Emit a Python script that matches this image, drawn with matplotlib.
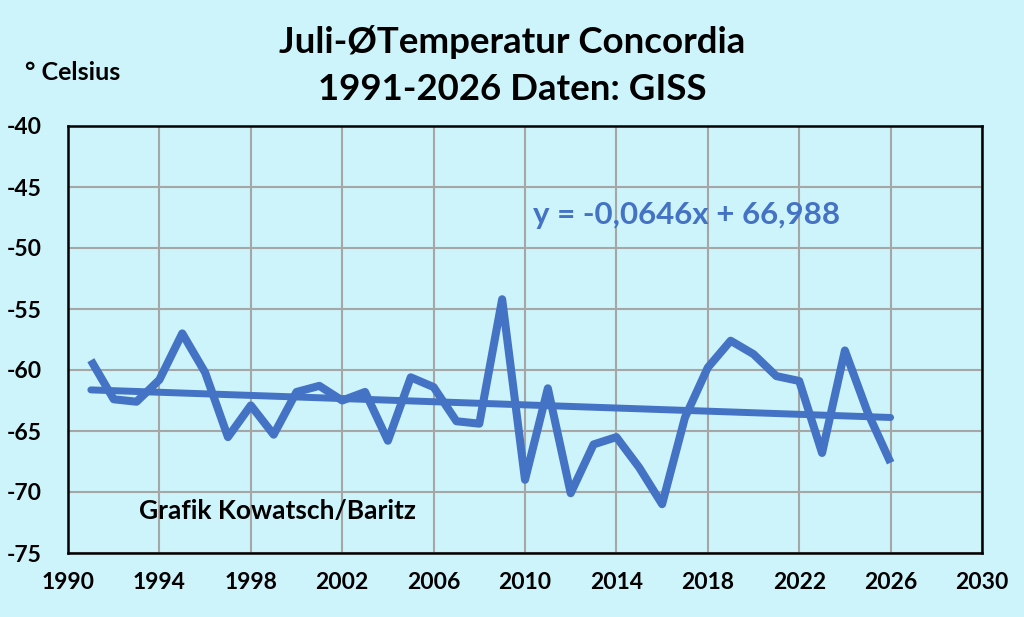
import matplotlib
matplotlib.use("Agg")
import matplotlib.pyplot as plt
import numpy as np

plt.rcParams['axes.unicode_minus'] = False

years = list(range(1991, 2027))
temps = [-59.2, -62.4, -62.6, -60.8, -57.0, -60.2, -65.5, -62.9, -65.3, -61.8,
         -61.3, -62.5, -61.8, -65.8, -60.6, -61.4, -64.2, -64.4, -54.2, -69.0,
         -61.5, -70.1, -66.1, -65.5, -68.0, -71.0, -63.9, -59.8, -57.6, -58.7,
         -60.5, -60.9, -66.8, -58.4, -63.5, -67.6]
trend_slope = -0.0646
trend_intercept = 66.988
xticks = list(range(1990, 2031, 4))
yticks = list(range(-75, -39, 5))

bg = '#CCF4FA'
blue = '#4472C4'
fam = ['Lato', 'DejaVu Sans']

fig = plt.figure(figsize=(10.24, 6.17), dpi=100, facecolor=bg)
ax = fig.add_axes([68/1024, 1-553/617, (982-68)/1024, (553-126)/617])
ax.set_facecolor(bg)

ax.plot(years, temps, color=blue, lw=5.8, solid_joinstyle='round', solid_capstyle='butt', zorder=3)
ty = [trend_slope * y + trend_intercept for y in (years[0], years[-1])]
ax.plot([years[0], years[-1]], ty, color=blue, lw=5.0, solid_capstyle='round', zorder=3)

ax.set_xlim(1990, 2030)
ax.set_ylim(-75, -40)
ax.set_xticks(xticks)
ax.set_yticks(yticks)
ax.grid(True, color='#A6A6A6', lw=1.5, zorder=1)
ax.tick_params(length=0, labelsize=16.5)
ax.tick_params(axis='x', pad=14)
ax.tick_params(axis='y', pad=19)
for lab in ax.get_xticklabels() + ax.get_yticklabels():
    lab.set_fontfamily(fam)
    lab.set_fontweight('bold')
for s in ax.spines.values():
    s.set_color('black')
    s.set_linewidth(1.8)

fig.text(0.5, 1-42/617, 'Juli-ØTemperatur Concordia', ha='center', va='center',
         fontsize=26.4, fontweight='bold', family=fam)
fig.text(0.5, 1-90/617, '1991-2026 Daten: GISS', ha='center', va='center',
         fontsize=26.4, fontweight='bold', family=fam)
fig.text(25/1024, 1-72/617, '° Celsius', ha='left', va='center',
         fontsize=18, fontweight='bold', family=fam)
ax.text(2010.35, -47.3, 'y = -0,0646x + 66,988', ha='left', va='center',
        fontsize=22.5, fontweight='bold', color=blue, family=fam)
ax.text(1993.1, -71.56, 'Grafik Kowatsch/Baritz', ha='left', va='center',
        fontsize=19, fontweight='bold', family=fam)

fig.savefig('out.png', dpi=100, facecolor=bg)
